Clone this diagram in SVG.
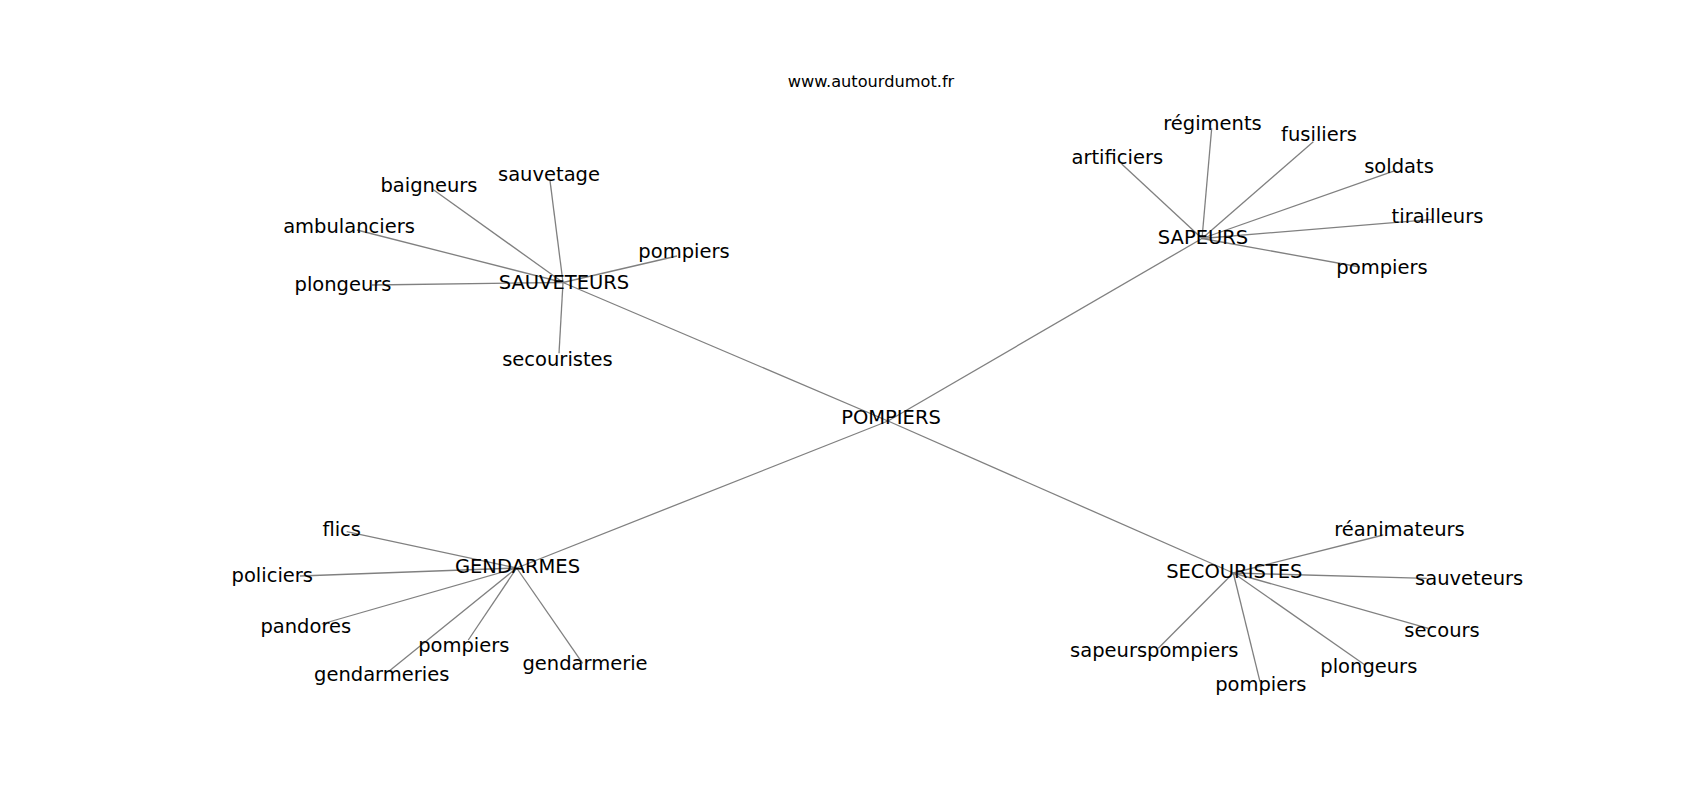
<svg xmlns="http://www.w3.org/2000/svg" width="1700" height="800" viewBox="0 0 1700 800">
<style>
.e{stroke:#808080;stroke-width:1.3;fill:none}
.l{font-family:"DejaVu Sans","Liberation Sans",sans-serif;font-size:19.5px;fill:#000;text-anchor:middle}
.t{font-family:"DejaVu Sans","Liberation Sans",sans-serif;font-size:16.2px;fill:#000;text-anchor:middle}
</style>
<rect width="1700" height="800" fill="#fff"/>
<g id="connectors">
<line class="e" x1="888" y1="421" x2="563" y2="282.5"/>
<line class="e" x1="888" y1="421" x2="1202" y2="238.5"/>
<line class="e" x1="888" y1="421" x2="516.7" y2="568"/>
<line class="e" x1="888" y1="421" x2="1233.3" y2="573"/>
<line class="e" x1="563" y1="282.5" x2="432.7" y2="189.3"/>
<line class="e" x1="563" y1="282.5" x2="550" y2="180.7"/>
<line class="e" x1="563" y1="282.5" x2="357" y2="230"/>
<line class="e" x1="563" y1="282.5" x2="372" y2="285"/>
<line class="e" x1="563" y1="282.5" x2="677" y2="256"/>
<line class="e" x1="563" y1="282.5" x2="559" y2="353.3"/>
<line class="e" x1="1202" y1="238.5" x2="1121.7" y2="164"/>
<line class="e" x1="1202" y1="238.5" x2="1211.7" y2="128.3"/>
<line class="e" x1="1202" y1="238.5" x2="1313.3" y2="141.7"/>
<line class="e" x1="1202" y1="238.5" x2="1395" y2="170.7"/>
<line class="e" x1="1202" y1="238.5" x2="1433" y2="219.3"/>
<line class="e" x1="1202" y1="238.5" x2="1360" y2="267"/>
<line class="e" x1="516.7" y1="568" x2="346.7" y2="531.7"/>
<line class="e" x1="516.7" y1="568" x2="300" y2="576"/>
<line class="e" x1="516.7" y1="568" x2="321.7" y2="624"/>
<line class="e" x1="516.7" y1="568" x2="468.3" y2="640"/>
<line class="e" x1="516.7" y1="568" x2="388.3" y2="671.7"/>
<line class="e" x1="516.7" y1="568" x2="582.7" y2="663.3"/>
<line class="e" x1="1233.3" y1="573" x2="1383.3" y2="535"/>
<line class="e" x1="1233.3" y1="573" x2="1426.7" y2="578.3"/>
<line class="e" x1="1233.3" y1="573" x2="1428.3" y2="628.3"/>
<line class="e" x1="1233.3" y1="573" x2="1365" y2="665"/>
<line class="e" x1="1233.3" y1="573" x2="1158.3" y2="648.3"/>
<line class="e" x1="1233.3" y1="573" x2="1260" y2="681.7"/>
</g>
<text class="t" x="871" y="87.3">www.autourdumot.fr</text>
<g id="n-pompiers-center"><text class="l" x="891" y="424.3">POMPIERS</text></g>
<g id="n-sauveteurs"><text class="l" x="564" y="289">SAUVETEURS</text></g>
<g id="n-baigneurs"><text class="l" x="429" y="192.3">baigneurs</text></g>
<g id="n-sauvetage"><text class="l" x="549" y="181">sauvetage</text></g>
<g id="n-ambulanciers"><text class="l" x="349" y="233.3">ambulanciers</text></g>
<g id="n-plongeurs1"><text class="l" x="343" y="291">plongeurs</text></g>
<g id="n-pompiers1"><text class="l" x="684" y="258.3">pompiers</text></g>
<g id="n-secouristes1"><text class="l" x="557.5" y="365.7">secouristes</text></g>
<g id="n-sapeurs"><text class="l" x="1203" y="244">SAPEURS</text></g>
<g id="n-artificiers"><text class="l" x="1117.3" y="164">artificiers</text></g>
<g id="n-regiments"><text class="l" x="1212.5" y="130">régiments</text></g>
<g id="n-fusiliers"><text class="l" x="1319" y="141">fusiliers</text></g>
<g id="n-soldats"><text class="l" x="1399" y="172.7">soldats</text></g>
<g id="n-tirailleurs"><text class="l" x="1437.5" y="222.7">tirailleurs</text></g>
<g id="n-pompiers2"><text class="l" x="1382" y="274.3">pompiers</text></g>
<g id="n-gendarmes"><text class="l" x="517.5" y="572.7">GENDARMES</text></g>
<g id="n-flics"><text class="l" x="341.7" y="535.7">flics</text></g>
<g id="n-policiers"><text class="l" x="272.3" y="581.7">policiers</text></g>
<g id="n-pandores"><text class="l" x="305.8" y="633.3">pandores</text></g>
<g id="n-pompiers3"><text class="l" x="463.8" y="651.7">pompiers</text></g>
<g id="n-gendarmeries"><text class="l" x="381.7" y="681">gendarmeries</text></g>
<g id="n-gendarmerie"><text class="l" x="585" y="670">gendarmerie</text></g>
<g id="n-secouristes"><text class="l" x="1234.3" y="578.3">SECOURISTES</text></g>
<g id="n-reanimateurs"><text class="l" x="1399.5" y="536">réanimateurs</text></g>
<g id="n-sauveteurs2"><text class="l" x="1469.2" y="585">sauveteurs</text></g>
<g id="n-secours"><text class="l" x="1442" y="636.7">secours</text></g>
<g id="n-plongeurs2"><text class="l" x="1368.8" y="673.3">plongeurs</text></g>
<g id="n-sapeurspompiers"><text class="l" x="1154.2" y="656.7">sapeurspompiers</text></g>
<g id="n-pompiers4"><text class="l" x="1260.8" y="690.7">pompiers</text></g>
</svg>
